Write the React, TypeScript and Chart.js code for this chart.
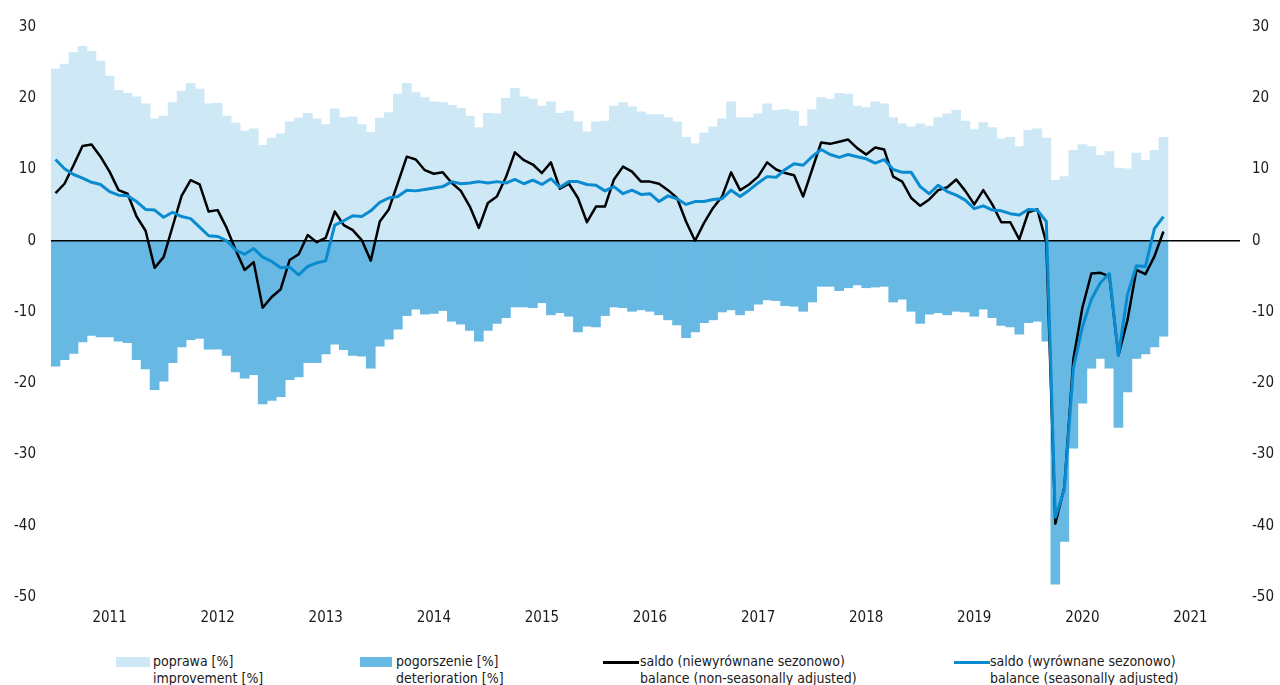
import React, { useEffect, useRef } from "react";
import { Chart, registerables } from "chart.js";

Chart.register(...registerables);

const years = [2011, 2012, 2013, 2014, 2015, 2016, 2017, 2018, 2019, 2020, 2021];

const improvement = [
  24.1, 24.8, 26.4, 27.3, 26.6, 25.2, 23.1, 21.1, 20.7, 20.2, 19.2, 17.1,
  17.5, 19.4, 21.0, 22.1, 21.3, 19.2, 19.3, 17.5, 16.5, 15.4, 15.7, 13.4,
  14.4, 15.0, 16.7, 17.2, 17.9, 17.1, 16.3, 18.5, 17.3, 17.4, 16.3, 15.2,
  17.2, 18.0, 20.6, 22.1, 20.8, 20.1, 19.5, 19.4, 19.0, 18.6, 17.5, 15.9,
  17.9, 17.8, 20.0, 21.4, 20.2, 19.9, 18.9, 19.5, 17.9, 18.2, 16.7, 15.3,
  16.7, 16.8, 18.9, 19.4, 18.8, 18.1, 17.7, 17.7, 17.3, 16.7, 14.5, 13.6,
  15.1, 16.0, 17.1, 19.5, 17.3, 17.3, 17.8, 19.2, 18.3, 18.4, 18.2, 16.1,
  18.4, 20.1, 19.9, 20.7, 20.6, 18.9, 18.7, 19.5, 19.2, 17.3, 16.4, 16.0,
  16.4, 16.1, 17.3, 17.8, 18.3, 16.8, 15.6, 16.6, 15.9, 14.3, 14.5, 13.2,
  15.5, 15.7, 14.4, 8.5, 9.0, 12.7, 13.5, 13.2, 12.0, 12.5, 10.2, 10.1,
  12.3, 11.3, 12.7, 14.5,
];

const deterioration = [
  -17.6, -16.7, -15.8, -14.2, -13.3, -13.5, -13.5, -14.1, -14.3, -16.7, -18.0, -20.9,
  -19.7, -17.1, -14.9, -13.9, -13.7, -15.2, -15.2, -16.1, -18.4, -19.3, -18.8, -22.9,
  -22.4, -21.9, -19.5, -19.1, -17.1, -17.1, -15.9, -14.5, -15.3, -16.1, -16.2, -17.9,
  -14.8, -13.8, -12.4, -10.5, -9.6, -10.3, -10.2, -9.8, -11.3, -11.7, -12.6, -14.1,
  -12.6, -11.6, -10.8, -9.3, -9.3, -9.4, -8.7, -10.4, -10.1, -10.6, -12.8, -12.0,
  -12.1, -10.5, -9.3, -9.4, -9.9, -9.7, -9.9, -10.4, -11.1, -11.8, -13.6, -12.8,
  -11.5, -11.1, -10.0, -9.7, -10.4, -9.8, -8.9, -8.3, -8.4, -9.1, -9.2, -9.9,
  -8.6, -6.4, -6.4, -7.0, -6.6, -6.2, -6.6, -6.5, -6.4, -8.6, -8.2, -9.9,
  -11.6, -10.3, -10.1, -10.4, -9.9, -10.0, -10.6, -9.6, -10.8, -11.9, -12.1, -13.1,
  -11.5, -11.3, -14.1, -48.2, -42.2, -29.1, -22.8, -17.9, -16.5, -17.9, -26.2, -21.2,
  -16.5, -15.9, -14.9, -13.4,
];

const balanceNSA = [
  6.7, 8.0, 10.6, 13.3, 13.5, 11.8, 9.7, 7.1, 6.6, 3.4, 1.4, -3.8,
  -2.3, 2.0, 6.3, 8.5, 7.9, 4.1, 4.3, 1.8, -1.3, -4.1, -3.0, -9.4,
  -7.9, -6.8, -2.7, -1.9, 0.8, -0.2, 0.4, 4.1, 2.2, 1.5, 0.1, -2.8,
  2.7, 4.4, 8.1, 11.8, 11.4, 9.9, 9.4, 9.6, 8.1, 7.0, 4.8, 1.8,
  5.3, 6.2, 8.9, 12.4, 11.3, 10.7, 9.5, 11.0, 7.3, 8.0, 6.0, 2.6,
  4.8, 4.8, 8.6, 10.4, 9.7, 8.3, 8.3, 8.0, 7.1, 6.0, 2.7, 0.0,
  2.5, 4.6, 6.2, 9.6, 7.1, 7.9, 9.0, 11.0, 10.0, 9.5, 9.2, 6.2,
  10.0, 13.8, 13.6, 13.9, 14.2, 13.0, 12.1, 13.1, 12.8, 9.0, 8.3, 6.0,
  4.9, 5.8, 7.1, 7.5, 8.6, 7.0, 5.1, 7.1, 5.1, 2.6, 2.6, 0.2,
  4.0, 4.4, -0.3, -39.7, -34.6, -16.6, -9.4, -4.6, -4.5, -5.0, -16.1, -11.2,
  -4.1, -4.7, -2.2, 1.3,
];

const balanceSA = [
  11.4, 10.1, 9.3, 8.8, 8.2, 7.9, 6.9, 6.4, 6.3, 5.5, 4.4, 4.3,
  3.3, 4.0, 3.4, 3.1, 1.9, 0.7, 0.6, 0.0, -1.3, -1.9, -1.1, -2.3,
  -2.9, -3.8, -3.7, -4.8, -3.6, -3.1, -2.8, 2.2, 2.8, 3.5, 3.4, 4.2,
  5.4, 6.0, 6.2, 7.1, 7.0, 7.2, 7.4, 7.6, 8.3, 8.0, 8.1, 8.3,
  8.1, 8.3, 8.1, 8.6, 8.0, 8.5, 7.9, 8.7, 7.5, 8.3, 8.3, 7.9,
  7.8, 7.0, 7.6, 6.6, 7.1, 6.5, 6.6, 5.5, 6.3, 5.9, 5.1, 5.5,
  5.5, 5.8, 5.9, 7.1, 6.2, 7.1, 8.1, 9.0, 8.9, 10.0, 10.8, 10.6,
  11.8, 12.8, 12.1, 11.7, 12.1, 11.8, 11.5, 10.9, 11.4, 10.0, 9.6, 9.6,
  7.6, 6.6, 7.8, 6.9, 6.4, 5.7, 4.5, 4.9, 4.3, 4.2, 3.8, 3.6,
  4.4, 4.3, 2.7, -38.8, -34.9, -17.9, -12.1, -8.2, -5.9, -4.6, -16.1, -7.6,
  -3.5, -3.6, 1.7, 3.4,
];

const legendLabels = [
  ["poprawa [%]", "improvement [%]"],
  ["pogorszenie [%]", "deterioration [%]"],
  ["saldo (niewyrównane sezonowo)", "balance (non-seasonally adjusted)"],
  ["saldo (wyrównane sezonowo)", "balance (seasonally adjusted)"],
];

const months = years.flatMap((y) =>
  Array.from({ length: 12 }, (_, m) => `${y}-${String(m + 1).padStart(2, "0")}`)
);

const COLORS = {
  improvement: "#cee8f6",
  deterioration: "#67b8e3",
  nsa: "#000000",
  sa: "#0a8bd0",
  text: "#1a1a1a",
};

const FONT = "'DejaVu Sans Condensed', 'Roboto Condensed', Roboto, sans-serif";

const zeroLine = {
  id: "zeroLine",
  afterDatasetDraw(chart: any, args: any) {
    if (args.index !== 1) return;
    const ctx = chart.ctx;
    const y = chart.scales.y.getPixelForValue(0);
    const { left, right } = chart.chartArea;
    ctx.save();
    ctx.strokeStyle = "#000";
    ctx.lineWidth = 1.5;
    ctx.beginPath();
    ctx.moveTo(left, y);
    ctx.lineTo(right, y);
    ctx.stroke();
    ctx.restore();
  },
};

export default function App() {
  const ref = useRef<HTMLCanvasElement>(null);

  useEffect(() => {
    document.body.style.overflow = "hidden";
    if (!ref.current) return;
    const tickFont = { family: FONT, size: 15 };
    const noPad = (s: any) => {
      s.paddingTop = 0;
      s.paddingBottom = 0;
    };
    const chart = new Chart(ref.current, {
      type: "bar",
      data: {
        labels: months,
        datasets: [
          {
            type: "bar",
            label: "poprawa",
            data: improvement,
            backgroundColor: COLORS.improvement,
            borderWidth: 0,
            grouped: false,
            barPercentage: 1,
            categoryPercentage: 1,
            order: 3,
          } as any,
          {
            type: "bar",
            label: "pogorszenie",
            data: deterioration,
            backgroundColor: COLORS.deterioration,
            borderWidth: 0,
            grouped: false,
            barPercentage: 1,
            categoryPercentage: 1,
            order: 2,
          } as any,
          {
            type: "line",
            label: "saldo nsa",
            data: balanceNSA,
            borderColor: COLORS.nsa,
            borderWidth: 2.5,
            borderJoinStyle: "round",
            pointRadius: 0,
            tension: 0,
            fill: false,
            order: 1,
          } as any,
          {
            type: "line",
            label: "saldo sa",
            data: balanceSA,
            borderColor: COLORS.sa,
            borderWidth: 3,
            borderJoinStyle: "round",
            pointRadius: 0,
            tension: 0,
            fill: false,
            order: 0,
          } as any,
        ],
      },
      options: {
        animation: false,
        responsive: false,
        maintainAspectRatio: false,
        layout: { padding: { top: 27, bottom: 0, left: 0, right: 0 } },
        plugins: { legend: { display: false }, tooltip: { enabled: false } },
        scales: {
          x: {
            grid: { display: false, drawTicks: false },
            border: { display: false },
            ticks: {
              autoSkip: false,
              maxRotation: 0,
              minRotation: 0,
              padding: 12,
              font: tickFont,
              color: COLORS.text,
              callback: (_v: any, i: number) => (i % 12 === 6 ? String(years[Math.floor(i / 12)]) : ""),
            },
            afterFit: (s: any) => {
              s.height = 41;
              s.paddingLeft = 0;
              s.paddingRight = 0;
            },
          },
          y: {
            position: "left",
            min: -50,
            max: 30,
            grid: { display: false, drawTicks: false },
            border: { display: false },
            ticks: { stepSize: 10, padding: 15, font: tickFont, color: COLORS.text },
            afterFit: (s: any) => {
              s.width = 51;
              noPad(s);
            },
          },
          y2: {
            position: "right",
            min: -50,
            max: 30,
            grid: { display: false, drawTicks: false },
            border: { display: false },
            ticks: { stepSize: 10, padding: 12, font: tickFont, color: COLORS.text },
            afterFit: (s: any) => {
              s.width = 40;
              noPad(s);
            },
          },
        },
      } as any,
      plugins: [zeroLine],
    });
    return () => chart.destroy();
  }, []);

  const textStyle: React.CSSProperties = {
    position: "absolute",
    top: 653,
    fontFamily: FONT,
    fontSize: 14,
    lineHeight: "17px",
    color: COLORS.text,
    whiteSpace: "nowrap",
  };

  return (
    <div style={{ position: "absolute", left: 0, top: 0, width: 1280, height: 685, overflow: "hidden" }}>
      <canvas ref={ref} width={1280} height={638} style={{ display: "block" }} />
      <div style={{ position: "absolute", left: 116, top: 657, width: 34, height: 10, background: COLORS.improvement }} />
      <div style={{ ...textStyle, left: 153 }}>
        {legendLabels[0][0]}
        <br />
        {legendLabels[0][1]}
      </div>
      <div style={{ position: "absolute", left: 360, top: 657, width: 32, height: 10, background: COLORS.deterioration }} />
      <div style={{ ...textStyle, left: 396 }}>
        {legendLabels[1][0]}
        <br />
        {legendLabels[1][1]}
      </div>
      <div style={{ position: "absolute", left: 603, top: 661, width: 36, height: 3, background: COLORS.nsa }} />
      <div style={{ ...textStyle, left: 640 }}>
        {legendLabels[2][0]}
        <br />
        {legendLabels[2][1]}
      </div>
      <div style={{ position: "absolute", left: 954, top: 661, width: 36, height: 3, background: COLORS.sa }} />
      <div style={{ ...textStyle, left: 990 }}>
        {legendLabels[3][0]}
        <br />
        {legendLabels[3][1]}
      </div>
    </div>
  );
}
